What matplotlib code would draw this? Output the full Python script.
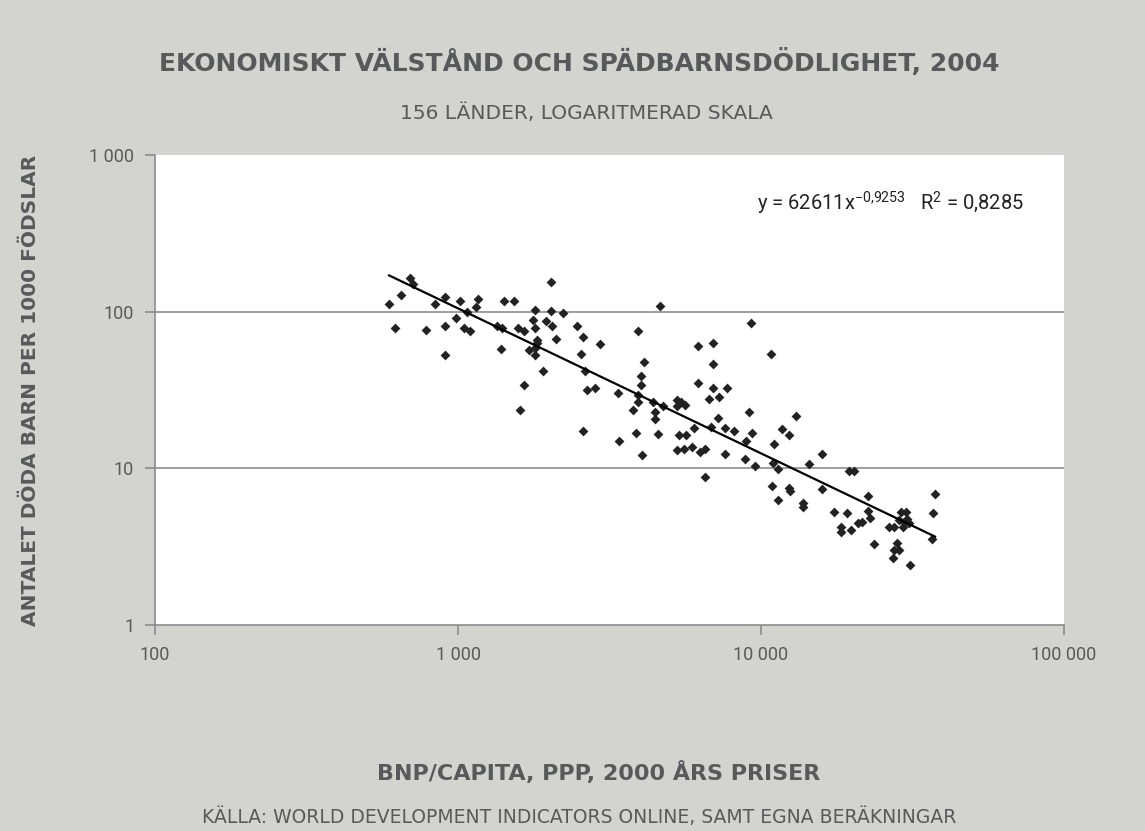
import matplotlib.pyplot as plt
import numpy as np
from matplotlib.ticker import FixedLocator, FuncFormatter, NullLocator

# BNP/capita (PPP, 2000 års priser) och spädbarnsdödlighet per 1000 födslar
gdp = [
    592, 648, 695, 710, 619, 784, 840, 906, 906, 906, 985, 1015, 1047, 1071,
    1095, 1147, 1164, 1345, 1397, 1387, 1418, 1530, 1578, 1651, 1651, 1602,
    1796, 1768, 1796, 1823, 1715, 1796, 1796, 1908, 2027, 2027, 1952, 2043,
    2106, 2221, 2471, 2586, 2547, 2942, 2626, 2666, 2833, 2586, 1823,
    4642, 3928, 6195, 6944, 9268, 10790, 4111, 6944, 4018, 4018, 6195, 6944,
    7723, 3375, 6737, 7268, 3928, 3928, 4402, 4749, 5283, 5445, 5613, 5283,
    3781, 4469, 4469, 9129, 13050, 3400, 3868, 4573, 4049, 5364, 5655, 6009,
    6839, 7213, 7606, 8144, 8923, 9338, 5283, 5570, 5918, 6290, 6535, 7606,
    6535, 8856, 9554, 11040, 11730, 12370, 10955, 11380, 14400, 15900, 10870,
    11380, 12370, 12470, 13760, 13760, 15900,
    17420, 19520, 20270, 19220, 22550, 22550, 22890, 18370, 18370, 19820,
    20900, 21540, 23600, 26450, 27470, 28970, 30100, 28540, 29640, 30330,
    29420, 30790, 28100, 27470, 28540, 27260, 31020, 37520, 36950, 36600,
]
imr = [
    111.5, 127, 165, 151, 78.7, 76.4, 111.5, 123.5, 81, 53.2, 91, 116.5, 78.7,
    99.3, 75.3, 106.8, 120, 81, 78.7, 58, 116.5, 116.5, 78.7, 75.3, 33.9, 23.6,
    102.2, 88.4, 78.7, 66.1, 57.1, 58.9, 53.2, 41.5, 153.5, 100.7, 87.1, 81,
    67.1, 97.8, 81, 69.1, 53.9, 62.4, 41.5, 31.5, 32.4, 17.4, 63.3,
    108, 75.3, 60.5, 63.3, 84.6, 53.9, 48, 46.6, 38.6, 33.9, 34.9, 32.4,
    32.4, 30.2, 27.6, 28.5, 29.3, 26.5, 26.5, 25, 27.2, 26.5, 25.3, 25,
    23.6, 22.9, 20.7, 22.9, 21.6, 15, 16.9, 16.6, 12.1, 16.2, 16.2, 18.1,
    18.4, 21, 18.1, 17.4, 15, 16.9, 13, 13.2, 13.6, 12.8, 13.2, 12.3,
    8.77, 11.4, 10.3, 14.2, 17.9, 16.2, 10.8, 9.86, 10.6, 12.4, 7.7,
    6.28, 7.48, 7.16, 6.01, 5.67, 7.37,
    5.28, 9.57, 9.57, 5.2, 6.65, 5.36, 4.84, 4.24, 3.95, 4.06,
    4.5, 4.56, 3.27, 4.24, 4.24, 5.28, 5.28, 4.7, 4.56, 4.77,
    4.24, 4.5, 3.36, 2.99, 2.99, 2.67, 2.41, 6.85, 5.2, 3.56,
]

# trendlinje y = 62611 x^-0,9253
coef = 62611
expo = -0.9253
r2 = "0,8285"

x_ticks = [100, 1000, 10000, 100000]
y_ticks = [1, 10, 100, 1000]

bg = "#d3d3cf"
txt = "#58595b"
plt.rcParams["font.family"] = ["Roboto", "DejaVu Sans"]
wide = ["DejaVu Sans"]

fig = plt.figure(figsize=(11.45, 8.31), dpi=100, facecolor=bg)
ax = fig.add_axes([0.1354, 0.2479, 0.7939, 0.5656])
ax.set_facecolor("white")

ax.set_xscale("log")
ax.set_yscale("log")
ax.set_xlim(100, 100000)
ax.set_ylim(1, 1000)

for v in [10, 100]:
    ax.axhline(v, color="#8c8c8c", lw=1.2, zorder=1)

ax.scatter(gdp, imr, marker="D", s=25, color="#222222", linewidths=0, zorder=3)

xs = np.logspace(np.log10(min(gdp)), np.log10(max(gdp)), 50)
ax.plot(xs, coef * xs ** expo, color="black", lw=1.6, zorder=4)

ax.text(0.662, 0.898,
        r"y = 62611x$^{\mathregular{-0{,}9253}}$   R$^{\mathregular{2}}$ = " + r2,
        transform=ax.transAxes, fontsize=14.5, color="#222222", va="center")

fmt = FuncFormatter(lambda v, p: f"{int(round(v)):,}".replace(",", " "))
ax.xaxis.set_major_locator(FixedLocator(x_ticks))
ax.yaxis.set_major_locator(FixedLocator(y_ticks))
ax.xaxis.set_minor_locator(NullLocator())
ax.yaxis.set_minor_locator(NullLocator())
ax.xaxis.set_major_formatter(fmt)
ax.yaxis.set_major_formatter(fmt)

for s in ["top", "right"]:
    ax.spines[s].set_visible(False)
for s in ["left", "bottom"]:
    ax.spines[s].set_color("#8c8c8c")
    ax.spines[s].set_linewidth(1.2)
ax.tick_params(axis="both", colors="#8c8c8c", length=7, width=1.2,
               labelcolor=txt, labelsize=13)
ax.tick_params(axis="x", pad=8)
ax.tick_params(axis="y", pad=8)

fig.text(0.506, 0.925, "EKONOMISKT VÄLSTÅND OCH SPÄDBARNSDÖDLIGHET, 2004",
         ha="center", va="center", fontsize=18, fontweight="bold", color=txt,
         family=wide)
fig.text(0.512, 0.864, "156 LÄNDER, LOGARITMERAD SKALA",
         ha="center", va="center", fontsize=14.5, color=txt, family=wide)
fig.text(0.027, 0.53, "ANTALET DÖDA BARN PER 1000 FÖDSLAR", rotation=90,
         ha="center", va="center", fontsize=14.5, fontweight="bold", color=txt,
         family=wide)
fig.text(0.523, 0.07, "BNP/CAPITA, PPP, 2000 ÅRS PRISER",
         ha="center", va="center", fontsize=16, fontweight="bold", color=txt,
         family=wide)
fig.text(0.506, 0.017, "KÄLLA: WORLD DEVELOPMENT INDICATORS ONLINE, SAMT EGNA BERÄKNINGAR",
         ha="center", va="center", fontsize=13.5, color=txt, family=wide)

fig.savefig("out.png", dpi=100, facecolor=bg)
